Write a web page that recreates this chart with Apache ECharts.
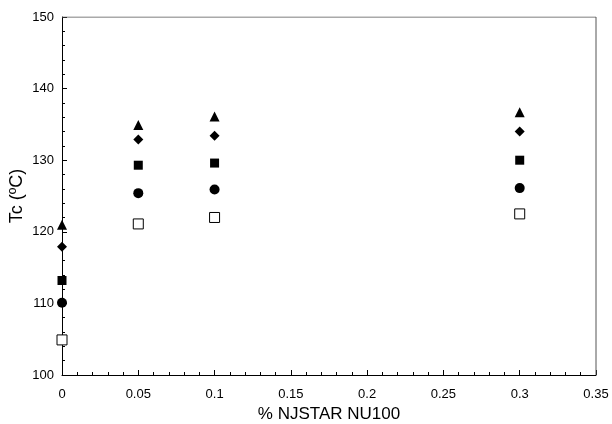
<!DOCTYPE html>
<html>
<head>
<meta charset="utf-8">
<script src="https://cdn.jsdelivr.net/npm/echarts@6/dist/echarts.min.js"></script>
<style>
  html, body { margin: 0; padding: 0; background: #fff; }
  #chart { width: 612px; height: 424px; }
</style>
</head>
<body>
<div id="chart"></div>
<script>
// nucleating agent loading (%)
const loading = [0, 0.05, 0.1, 0.3];

// Tc values per symbol series
const triangleVals = [121.0, 134.9, 136.1, 136.7];
const diamondVals = [117.9, 132.9, 133.4, 134.0];
const squareVals = [113.2, 129.3, 129.6, 130.0];
const circleVals = [110.1, 125.4, 125.9, 126.1];
const openSquareVals = [104.9, 121.1, 122.0, 122.5];

const chart = echarts.init(document.getElementById('chart'));

function pts(vals) {
  return loading.map((x, i) => [x, vals[i]]);
}

function scatter(name, vals, symbol, size, filled) {
  return {
    name: name,
    type: 'scatter',
    data: pts(vals),
    symbol: symbol,
    symbolSize: size,
    itemStyle: filled
      ? { color: '#000', opacity: 1 }
      : { color: '#fff', borderColor: '#000', borderWidth: 1, opacity: 1 },
    z: 5
  };
}

const font = 'Liberation Sans, Arial, sans-serif';

const option = {
  animation: false,
  backgroundColor: '#fff',
  grid: { left: 62, right: 16, top: 17, bottom: 49, containLabel: false, outerBoundsMode: 'none' },
  xAxis: {
    type: 'value',
    min: 0,
    max: 0.35,
    interval: 0.05,
    name: '% NJSTAR NU100',
    nameLocation: 'middle',
    nameGap: 31,
    nameTextStyle: { fontFamily: font, fontSize: 17, color: '#000' },
    axisLine: { show: true, onZero: false, lineStyle: { color: '#000', width: 1 } },
    axisTick: { show: true, inside: true, length: 5, lineStyle: { color: '#000' } },
    minorTick: { show: true, splitNumber: 5, length: 3, lineStyle: { color: '#000' } },
    axisLabel: { fontFamily: font, fontSize: 13, color: '#000', margin: 13,
      formatter: v => String(+v.toFixed(2)) },
    splitLine: { show: false }
  },
  yAxis: {
    type: 'value',
    min: 100,
    max: 150,
    interval: 10,
    name: 'Tc (ºC)',
    nameLocation: 'middle',
    nameGap: 36,
    nameRotate: 90,
    nameMoveOverlap: false,
    nameTextStyle: { fontFamily: font, fontSize: 18, color: '#000' },
    axisLine: { show: true, onZero: false, lineStyle: { color: '#000', width: 1 } },
    axisTick: { show: true, inside: true, length: 5, lineStyle: { color: '#000' } },
    minorTick: { show: true, splitNumber: 5, length: 3, lineStyle: { color: '#000' } },
    axisLabel: { fontFamily: font, fontSize: 13, color: '#000', margin: 8 },
    splitLine: { show: false }
  },
  series: [
    scatter('triangle', triangleVals, 'triangle', 10, true),
    scatter('diamond', diamondVals, 'diamond', 10, true),
    scatter('square', squareVals, 'rect', 9, true),
    scatter('circle', circleVals, 'circle', 10, true),
    scatter('open', openSquareVals, 'rect', 10, false),
    {
      // box outline (top and right frame)
      type: 'line',
      data: [[0, 150], [0.35, 150], [0.35, 100]],
      symbol: 'none',
      lineStyle: { color: '#555', width: 1 },
      silent: true,
      z: 1
    }
  ]
};

chart.setOption(option);
</script>
</body>
</html>
